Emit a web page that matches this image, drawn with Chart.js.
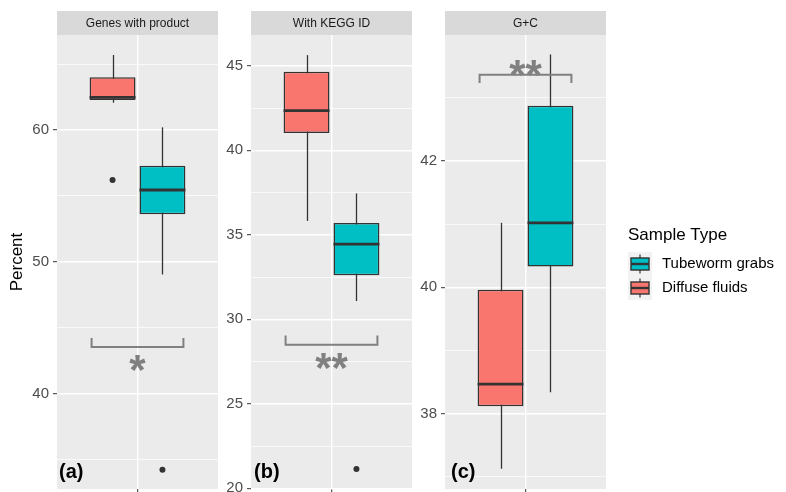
<!DOCTYPE html>
<html>
<head>
<meta charset="utf-8">
<script src="https://cdn.jsdelivr.net/npm/chart.js@4.4.1/dist/chart.umd.min.js"></script>
<style>
  html, body { margin: 0; padding: 0; background: #ffffff; }
  #wrap { position: relative; width: 786px; height: 492px; overflow: hidden; }
  #wrap canvas { position: absolute; top: 0; }
</style>
</head>
<body>
<div id="wrap">
  <canvas id="panelA" width="220" height="492" style="left:0px;width:220px;height:492px"></canvas>
  <canvas id="panelB" width="194" height="492" style="left:220px;width:194px;height:492px"></canvas>
  <canvas id="panelC" width="372" height="492" style="left:414px;width:372px;height:492px"></canvas>
</div>
<script>
// ---- data ----------------------------------------------------------------
const panelTitles = ['Genes with product', 'With KEGG ID', 'G+C'];
const panelTags = ['(a)', '(b)', '(c)'];
const seriesNames = ['Diffuse fluids', 'Tubeworm grabs'];
const legendTitle = 'Sample Type';
const yTitle = 'Percent';

// box summaries: [lower whisker, Q1, median, Q3, upper whisker]
const genesDiffuse  = [62.07, 62.28, 62.47, 64.00, 65.69];
const genesTubeworm = [49.03, 53.60, 55.44, 57.29, 60.20];
const genesOutliersDiffuse  = [56.2];
const genesOutliersTubeworm = [34.2];

const keggDiffuse  = [35.82, 41.02, 42.35, 44.65, 45.63];
const keggTubeworm = [31.08, 32.60, 34.45, 35.69, 37.45];
const keggOutliersDiffuse  = [];
const keggOutliersTubeworm = [21.15];

const gcDiffuse  = [37.13, 38.12, 38.47, 39.96, 41.02];
const gcTubeworm = [38.34, 40.33, 41.02, 42.87, 43.68];
const gcOutliersDiffuse  = [];
const gcOutliersTubeworm = [];

// axis limits and tick values
const genesRange = [32.74, 67.21];
const keggRange  = [19.96, 46.82];
const gcRange    = [36.81, 43.99];
const genesMajorTicks = [40, 50, 60];
const genesMinorTicks = [35, 45, 55, 65];
const keggMajorTicks  = [20, 25, 30, 35, 40, 45];
const keggMinorTicks  = [22.5, 27.5, 32.5, 37.5, 42.5];
const gcMajorTicks    = [38, 40, 42];
const gcMinorTicks    = [37, 39, 41, 43];

// significance brackets: [bracket line, bracket tips, label centre]
const genesSignif = [43.52, 44.20, 42.42];
const keggSignif  = [28.50, 29.04, 27.59];
const gcSignif    = [43.36, 43.23, 43.49];
const signifLabels = ['*', '**', '**'];

// ---- styling -------------------------------------------------------------
const FONT = '"Liberation Sans", Arial, Helvetica, sans-serif';
const RED = '#F8766D';
const TEAL = '#00BFC4';
const INK = '#333333';

// panel background, strip, whiskers, medians, outliers, brackets, tags, legend
const facetPlugin = {
  id: 'facetDecor',
  beforeDraw(chart, args, o) {
    const { ctx, chartArea: a } = chart;
    ctx.save();
    ctx.fillStyle = '#EBEBEB';
    ctx.fillRect(a.left, a.top, a.right - a.left, a.bottom - a.top);
    ctx.fillStyle = '#D9D9D9';
    ctx.fillRect(a.left, 11, a.right - a.left, 24);
    ctx.fillStyle = '#1A1A1A';
    ctx.font = '12px ' + FONT;
    ctx.textAlign = 'center';
    ctx.textBaseline = 'middle';
    ctx.fillText(o.strip, (a.left + a.right) / 2, 23.5);
    ctx.restore();
  },
  beforeDatasetsDraw(chart) {
    const { ctx } = chart;
    const y = chart.scales.y;
    ctx.save();
    ctx.strokeStyle = INK;
    ctx.lineWidth = 1.3;
    chart.data.datasets.forEach((ds, i) => {
      const bar = chart.getDatasetMeta(i).data[0];
      const x = Math.round(bar.x) + 0.5;
      ctx.beginPath();
      ctx.moveTo(x, y.getPixelForValue(ds.stats[0]));
      ctx.lineTo(x, y.getPixelForValue(ds.stats[4]));
      ctx.stroke();
    });
    ctx.restore();
  },
  afterDatasetsDraw(chart, args, o) {
    const { ctx, chartArea: a } = chart;
    const y = chart.scales.y;
    ctx.save();
    const bars = chart.data.datasets.map((ds, i) => chart.getDatasetMeta(i).data[0]);
    chart.data.datasets.forEach((ds, i) => {
      const bar = bars[i];
      const half = bar.width / 2;
      // median
      ctx.strokeStyle = INK;
      ctx.lineWidth = 2.8;
      ctx.beginPath();
      const my = y.getPixelForValue(ds.stats[2]);
      ctx.moveTo(bar.x - half, my);
      ctx.lineTo(bar.x + half, my);
      ctx.stroke();
      // outliers
      ctx.fillStyle = INK;
      ds.outliers.forEach(v => {
        ctx.beginPath();
        ctx.arc(bar.x, y.getPixelForValue(v), 3, 0, Math.PI * 2);
        ctx.fill();
      });
    });
    // significance bracket
    const s = o.signif;
    const x1 = bars[0].x - bars[0].width / 2 + 2;
    const x2 = bars[1].x + bars[1].width / 2 - 2;
    const by = y.getPixelForValue(s[0]);
    const ty = y.getPixelForValue(s[1]);
    ctx.strokeStyle = '#808080';
    ctx.lineWidth = 2;
    ctx.beginPath();
    ctx.moveTo(x1, ty);
    ctx.lineTo(x1, by);
    ctx.lineTo(x2, by);
    ctx.lineTo(x2, ty);
    ctx.stroke();
    ctx.fillStyle = '#808080';
    ctx.font = 'bold 42px ' + FONT;
    ctx.textAlign = 'center';
    ctx.textBaseline = 'alphabetic';
    ctx.fillText(o.signifLabel, (a.left + a.right) / 2, y.getPixelForValue(s[2]) + 22);
    // panel tag
    ctx.fillStyle = '#000000';
    ctx.font = 'bold 20px ' + FONT;
    ctx.textAlign = 'left';
    ctx.fillText(o.tag, a.left + o.tagDx, 478);
    ctx.restore();
  },
  afterDraw(chart, args, o) {
    if (!o.legend) return;
    const { ctx } = chart;
    const lx = 214, top = 252, key = 24;
    ctx.save();
    ctx.fillStyle = '#000000';
    ctx.font = '17px ' + FONT;
    ctx.textAlign = 'left';
    ctx.textBaseline = 'alphabetic';
    ctx.fillText(legendTitle, lx, 240);
    const entries = [chart.data.datasets[1], chart.data.datasets[0]];
    entries.forEach((ds, k) => {
      const ky = top + k * key;
      ctx.fillStyle = '#F2F2F2';
      ctx.fillRect(lx, ky, key, key);
      const cx = lx + key / 2;
      ctx.strokeStyle = INK;
      ctx.lineWidth = 1.2;
      ctx.beginPath();
      ctx.moveTo(cx, ky + key * 0.1);
      ctx.lineTo(cx, ky + key * 0.9);
      ctx.stroke();
      ctx.fillStyle = ds.backgroundColor;
      ctx.fillRect(lx + 3, ky + 6, key - 6, key - 12);
      ctx.lineWidth = 1.4;
      ctx.strokeRect(lx + 3, ky + 6, key - 6, key - 12);
      ctx.lineWidth = 2.4;
      ctx.beginPath();
      ctx.moveTo(lx + 3, ky + key / 2);
      ctx.lineTo(lx + key - 3, ky + key / 2);
      ctx.stroke();
      ctx.fillStyle = '#000000';
      ctx.font = '15px ' + FONT;
      ctx.textBaseline = 'middle';
      ctx.fillText(ds.label, lx + 34, ky + key / 2);
    });
    ctx.restore();
  }
};

function makePanel(canvasId, p) {
  const allTicks = p.major.concat(p.minor).sort((u, v) => u - v);
  const isMajor = v => p.major.some(m => Math.abs(m - v) < 1e-9);
  return new Chart(document.getElementById(canvasId), {
    type: 'bar',
    data: {
      labels: [''],
      datasets: [
        { label: seriesNames[0], data: [[p.diffuse[1], p.diffuse[3]]], backgroundColor: RED,
          stats: p.diffuse, outliers: p.outDiffuse },
        { label: seriesNames[1], data: [[p.tubeworm[1], p.tubeworm[3]]], backgroundColor: TEAL,
          stats: p.tubeworm, outliers: p.outTubeworm }
      ]
    },
    options: {
      responsive: false,
      animation: false,
      events: [],
      layout: { padding: { top: 35, right: p.padRight, left: 0, bottom: 0 } },
      datasets: {
        bar: {
          categoryPercentage: 0.62,
          barPercentage: 0.92,
          borderColor: INK,
          borderWidth: 1.5,
          borderSkipped: false
        }
      },
      plugins: {
        legend: { display: false },
        tooltip: { enabled: false },
        facetDecor: {
          strip: p.title, tag: p.tag, tagDx: p.tagDx,
          signif: p.signif, signifLabel: p.signifLabel, legend: !!p.legend
        }
      },
      scales: {
        x: {
          type: 'category',
          offset: true,
          border: { display: false },
          grid: { offset: false, color: '#FFFFFF', lineWidth: 1.4, tickColor: INK, tickLength: 4, tickWidth: 1 },
          ticks: { display: false },
          afterFit: s => { s.height = 3; }
        },
        y: {
          min: p.range[0],
          max: p.range[1],
          border: { display: false },
          afterBuildTicks: s => { s.ticks = allTicks.map(v => ({ value: v })); },
          ticks: {
            autoSkip: false,
            padding: 4,
            color: '#4D4D4D',
            font: { size: 15, family: FONT },
            callback: v => (isMajor(v) ? String(v) : '')
          },
          grid: {
            color: '#FFFFFF',
            lineWidth: c => (isMajor(c.tick.value) ? 1.4 : 0.7),
            tickColor: c => (isMajor(c.tick.value) ? INK : 'rgba(0,0,0,0)'),
            tickLength: 4,
            tickWidth: 1
          },
          title: p.yTitle ? {
            display: true, text: p.yTitle, color: '#000000',
            font: { size: 17, family: FONT }, padding: { top: 7, bottom: 0 }
          } : { display: false },
          afterFit: s => { s.width = p.axisWidth; s.paddingTop = 0; s.paddingBottom = 0; }
        }
      }
    },
    plugins: [facetPlugin]
  });
}

makePanel('panelA', {
  title: panelTitles[0], tag: panelTags[0], tagDx: 2,
  diffuse: genesDiffuse, tubeworm: genesTubeworm,
  outDiffuse: genesOutliersDiffuse, outTubeworm: genesOutliersTubeworm,
  range: genesRange, major: genesMajorTicks, minor: genesMinorTicks,
  signif: genesSignif, signifLabel: signifLabels[0],
  axisWidth: 57, padRight: 2, yTitle: yTitle
});
makePanel('panelB', {
  title: panelTitles[1], tag: panelTags[1], tagDx: 3,
  diffuse: keggDiffuse, tubeworm: keggTubeworm,
  outDiffuse: keggOutliersDiffuse, outTubeworm: keggOutliersTubeworm,
  range: keggRange, major: keggMajorTicks, minor: keggMinorTicks,
  signif: keggSignif, signifLabel: signifLabels[1],
  axisWidth: 31, padRight: 2
});
makePanel('panelC', {
  title: panelTitles[2], tag: panelTags[2], tagDx: 6,
  diffuse: gcDiffuse, tubeworm: gcTubeworm,
  outDiffuse: gcOutliersDiffuse, outTubeworm: gcOutliersTubeworm,
  range: gcRange, major: gcMajorTicks, minor: gcMinorTicks,
  signif: gcSignif, signifLabel: signifLabels[2],
  axisWidth: 31, padRight: 180, legend: true
});
</script>
</body>
</html>
